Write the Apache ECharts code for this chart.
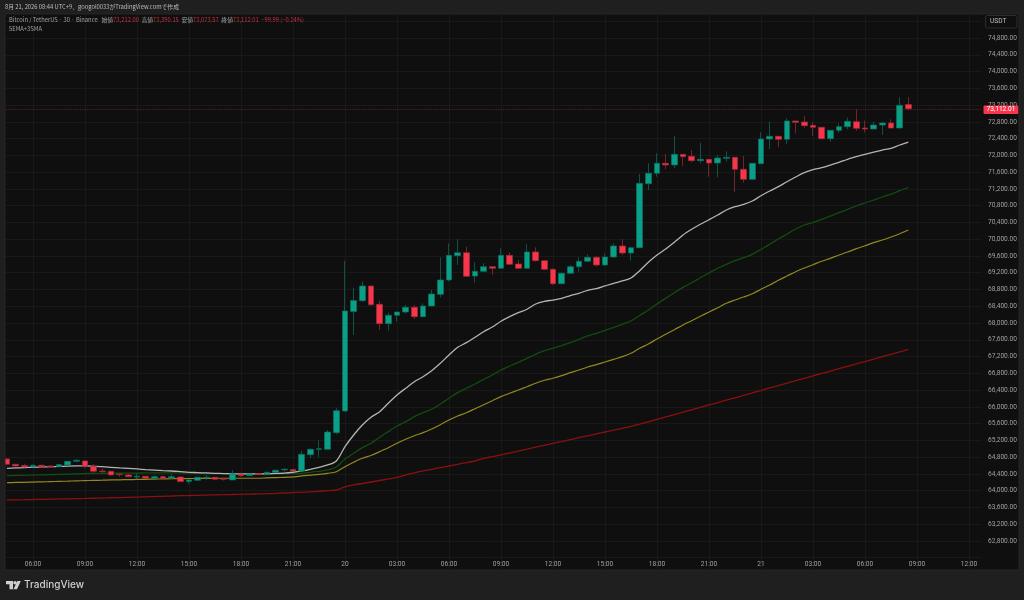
<!DOCTYPE html>
<html><head><meta charset="utf-8">
<style>html,body{margin:0;padding:0;background:#1f1f1f}#c{width:1024px;height:600px}</style>
<script src="https://cdn.jsdelivr.net/npm/echarts@6/dist/echarts.min.js"></script></head>
<body><div id="c"></div>
<script>
const headerText='8月 21, 2026 08:44 UTC+9、googol0033がTradingView.comで作成';
const symbolText='Bitcoin / TetherUS · 30 · Binance';
const ohlcLabels=['始値','高値','安値','終値'];
const ohlcValues=['73,212.00','73,390.15','73,073.57','73,112.01'];
const changeText='−99.99 (−0.14%)';
const indicatorText='5EMA+3SMA';
const lastPrice=73112.01;
const categories=['04:30','05:00','05:30','06:00','06:30','07:00','07:30','08:00','08:30','09:00','09:30','10:00','10:30','11:00','11:30','12:00','12:30','13:00','13:30','14:00','14:30','15:00','15:30','16:00','16:30','17:00','17:30','18:00','18:30','19:00','19:30','20:00','20:30','21:00','21:30','22:00','22:30','23:00','23:30','20','00:30','01:00','01:30','02:00','02:30','03:00','03:30','04:00','04:30','05:00','05:30','06:00','06:30','07:00','07:30','08:00','08:30','09:00','09:30','10:00','10:30','11:00','11:30','12:00','12:30','13:00','13:30','14:00','14:30','15:00','15:30','16:00','16:30','17:00','17:30','18:00','18:30','19:00','19:30','20:00','20:30','21:00','21:30','22:00','22:30','23:00','23:30','21','00:30','01:00','01:30','02:00','02:30','03:00','03:30','04:00','04:30','05:00','05:30','06:00','06:30','07:00','07:30','08:00','08:30','09:00','09:30','10:00','10:30','11:00','11:30','12:00','12:30'];
const opens=[64757,64630,64598,64566,64606,64590,64574,64614,64701,64709,64582,64471,64463,64399,64375,64327,64343,64295,64335,64303,64327,64216,64248,64303,64319,64288,64256,64399,64359,64407,64383,64439,64495,64503,64470,64859,64988,64988,65384,65901,68275,68533,68883,68446,67985,68184,68263,68375,68152,68407,68685,69027,69607,69679,69122,69233,69345,69305,69615,69408,69305,69695,69488,69281,68939,69186,69345,69472,69567,69385,69575,69838,69671,69798,71325,71572,71811,71771,72025,71978,71874,71906,71818,71930,71954,71667,71429,71803,72391,72455,72383,72820,72797,72717,72669,72399,72598,72685,72804,72653,72630,72725,72773,72653,73212];
const closes=[64630,64590,64566,64606,64566,64566,64622,64701,64725,64582,64463,64455,64375,64383,64335,64343,64295,64335,64295,64335,64216,64256,64319,64319,64272,64272,64399,64359,64399,64383,64439,64487,64511,64471,64868,64988,65002,65400,65908,68287,68537,68883,68437,67985,68184,68263,68375,68152,68407,68693,69027,69615,69679,69114,69233,69345,69305,69615,69400,69305,69695,69488,69281,68939,69186,69345,69472,69567,69385,69575,69838,69671,69798,71333,71572,71811,71771,72025,71970,71874,71906,71818,71938,71954,71667,71429,71811,72391,72455,72383,72820,72789,72709,72669,72399,72598,72685,72812,72645,72630,72725,72773,72653,73194,73112.01];
const lows=[64606,64580,64550,64550,64558,64558,64566,64606,64677,64534,64431,64415,64367,64335,64319,64272,64287,64272,64272,64272,64208,64152,64240,64256,64264,64240,64256,64335,64351,64375,64375,64431,64455,64463,64462,64780,64797,64980,65346,65890,67715,68509,68406,67834,67818,68033,68224,68096,68136,68391,68613,68995,69385,69106,68963,69210,69146,69297,69385,69289,69289,69464,69265,68907,68923,69170,69226,69456,69345,69361,69567,69623,69488,69790,71174,71492,71667,71691,71747,71834,71811,71492,71477,71850,71127,71349,71413,71787,72152,72192,72272,72526,72661,72463,72383,72327,72542,72622,72590,72550,72622,72487,72645,72645,73073.57];
const highs=[64773,64640,64645,64622,64622,64598,64630,64710,64757,64717,64638,64534,64471,64415,64399,64415,64351,64367,64367,64399,64335,64272,64327,64375,64327,64296,64495,64431,64407,64415,64447,64503,64534,64511,64954,65000,65202,65448,65966,69487,68843,68986,68890,68526,68247,68270,68430,68430,68470,68788,69567,69901,70000,69822,69448,69424,69361,69782,69687,69504,69878,69806,69504,69305,69202,69385,69567,69639,69607,69663,69901,70000,69822,71556,71811,72049,72033,72463,72033,72129,72304,71914,72009,72097,71962,71985,71819,72550,72805,72463,72884,72828,72948,72789,72677,72606,72765,72900,73099,72828,72804,72789,72860,73385,73390.15];
const whiteLine=[64534,64542,64550,64558,64566,64574,64578,64586,64590,64590,64582,64574,64558,64542,64530,64518,64502,64490,64478,64470,64455,64439,64431,64423,64415,64407,64403,64399,64399,64399,64403,64411,64419,64440,64470,64510,64558,64613,64709,65050,65329,65568,65751,65885,66085,66283,66443,66600,66720,66863,67039,67238,67421,67531,67660,67793,67905,68041,68151,68246,68328,68454,68518,68549,68590,68652,68709,68781,68819,68884,68948,69003,69074,69249,69449,69623,69766,69926,70100,70236,70356,70465,70577,70697,70775,70832,70911,71038,71150,71253,71372,71484,71587,71658,71706,71770,71835,71906,71968,72026,72080,72128,72169,72248,72319];
const greenLine=[64359,64363,64367,64373,64377,64383,64389,64395,64400,64407,64412,64415,64417,64419,64420,64421,64423,64423,64423,64423,64423,64419,64415,64411,64407,64405,64403,64401,64399,64399,64399,64401,64405,64407,64415,64439,64463,64494,64565,64756,64892,65026,65131,65274,65408,65544,65646,65766,65861,65942,66069,66205,66338,66443,66545,66658,66760,66879,66975,67063,67158,67254,67340,67397,67459,67531,67612,67691,67755,67827,67898,67970,68048,68180,68311,68454,68590,68724,68852,68962,69081,69193,69306,69401,69487,69559,69640,69759,69878,70005,70124,70243,70339,70403,70475,70553,70632,70713,70792,70864,70935,71007,71078,71157,71238];
const yellowLine=[64192,64196,64200,64206,64210,64216,64222,64227,64234,64240,64245,64250,64256,64260,64264,64268,64272,64276,64280,64284,64288,64290,64292,64293,64296,64296,64296,64296,64296,64297,64307,64311,64319,64327,64351,64370,64389,64415,64453,64573,64678,64773,64840,64931,65026,65131,65226,65312,65384,65472,65575,65687,65782,65861,65956,66052,66147,66243,66324,66402,66481,66562,66634,66682,66744,66815,66879,66951,67006,67070,67134,67197,67278,67397,67500,67619,67731,67841,67953,68056,68161,68263,68366,68471,68550,68621,68700,68805,68907,69019,69122,69225,69313,69392,69473,69544,69623,69695,69774,69845,69917,69981,70053,70131,70220];
const redLine=[63778,63781,63785,63790,63792,63797,63802,63804,63809,63814,63819,63823,63831,63835,63842,63847,63854,63859,63866,63873,63881,63885,63890,63895,63900,63904,63909,63914,63919,63923,63928,63935,63945,63954,63961,63971,63985,64000,64016,64088,64136,64171,64207,64243,64279,64315,64379,64427,64470,64510,64549,64589,64630,64668,64708,64771,64811,64854,64899,64945,64990,65038,65083,65128,65173,65219,65264,65310,65355,65400,65446,65489,65534,65587,65644,65699,65759,65816,65873,65930,65987,66045,66102,66159,66216,66273,66331,66390,66450,66507,66565,66624,66682,66739,66796,66853,66911,66968,67025,67082,67140,67197,67254,67311,67369];

const UP='#0aa087',DOWN='#f7364b',UPW='#0c7060',DOWNW='#a32a3a';
const LABEL='#a0a0a0';
const FONT='"Noto Sans CJK JP",sans-serif';
const candle=opens.map((o,i)=>[o,closes[i],lows[i],highs[i]]);
const lineSeries=(d,c,w)=>({type:'line',data:d,showSymbol:false,symbol:'none',smooth:0.3,z:3,lineStyle:{color:c,width:w},silent:true});
const showTick=i=>(i-3)%6===0;
const ohlcRich={a:{fill:'#a0a0a0',font:'5.8px '+FONT},v:{fill:'#c8303f',font:'5.8px '+FONT}};
const ohlcStr=ohlcLabels.map((l,i)=>`{a|${l}}{v|${ohlcValues[i]}}`).join('{a|  }');
const chart=echarts.init(document.getElementById('c'),null,{renderer:'canvas'});
chart.setOption({
 animation:false,backgroundColor:'#1f1f1f',
 grid:{left:2.667,right:42,top:4.5,bottom:25.5,containLabel:false},
 xAxis:{type:'category',data:categories,boundaryGap:true,
  axisLine:{show:false},axisTick:{show:false},
  axisLabel:{inside:true,margin:7,interval:(i)=>showTick(i),color:LABEL,fontSize:6.6,fontFamily:'Roboto',hideOverlap:false},
  splitLine:{show:true,alignWithLabel:true,interval:(i)=>showTick(i),lineStyle:{color:'#191919',width:1}}},
 yAxis:{type:'value',position:'right',min:62000,max:75600,interval:400,
  axisLine:{show:false},axisTick:{show:false},
  axisLabel:{margin:6,color:LABEL,fontSize:6.6,fontFamily:'Roboto',
   formatter:v=>(v<62800||v>74800)?'':v.toLocaleString('en-US',{minimumFractionDigits:2,maximumFractionDigits:2})},
  splitLine:{show:true,lineStyle:{color:'#191919',width:1}}},
 series:[
  lineSeries(redLine,'#8a1010',1.3),
  lineSeries(yellowLine,'#948820',1.2),
  lineSeries(greenLine,'#124c10',1.3),
  lineSeries(whiteLine,'#b4b4b4',1.3),
  {type:'candlestick',data:candle,barWidth:6.4,z:4,silent:true,
   itemStyle:{color:UP,color0:DOWN,borderColor:UPW,borderColor0:DOWNW,borderWidth:0.7},
   markLine:{silent:true,symbol:'none',animation:false,precision:2,z:6,
    lineStyle:{color:'rgba(200,45,60,0.5)',type:'dotted',width:0.9},
    label:{show:true,position:'end',distance:1.5,formatter:()=>'73,112.01',backgroundColor:'#f7364b',color:'#ffffff',fontSize:6.6,lineHeight:7,fontFamily:'Roboto',padding:[1,3,0.5,3],borderRadius:1,offset:[0,1]},
    data:[{yAxis:lastPrice}]}}
 ],
 graphic:[
  {type:'rect',z:-1,shape:{x:5,y:14,width:1014,height:556},style:{fill:'#0f0f0f'},silent:true},
  {type:'rect',z:50,shape:{x:0,y:0,width:1024,height:14},style:{fill:'#1f1f1f'},silent:true},
  {type:'rect',z:50,shape:{x:0,y:570,width:1024,height:30},style:{fill:'#1f1f1f'},silent:true},
  {type:'rect',z:50,shape:{x:0,y:0,width:5,height:600},style:{fill:'#1f1f1f'},silent:true},
  {type:'rect',z:50,shape:{x:1019,y:0,width:5,height:600},style:{fill:'#1f1f1f'},silent:true},
  {type:'rect',z:51,shape:{x:5,y:14,width:1014,height:556},style:{fill:null,stroke:'#262626',lineWidth:1},silent:true},
  {type:'text',z:52,x:5,y:7,style:{text:headerText,fill:'#bcbcbc',font:'5.8px '+FONT,verticalAlign:'middle'},silent:true},
  {type:'text',z:52,x:9,y:20,style:{text:`{a|${symbolText}   }${ohlcStr}{v|  ${changeText}}`,rich:ohlcRich,verticalAlign:'middle'},silent:true},
  {type:'text',z:52,x:9,y:29,style:{text:indicatorText,fill:'#a0a0a0',font:'5.8px '+FONT,verticalAlign:'middle'},silent:true},
  {type:'rect',z:52,shape:{x:985.5,y:15.5,width:31.5,height:12.5,r:2},style:{fill:'#0f0f0f',stroke:'#2d2d2d',lineWidth:1},silent:true},
  {type:'text',z:53,x:990,y:21.7,style:{text:'USDT',fill:'#c0c0c0',font:'6.6px Roboto',verticalAlign:'middle'},silent:true},
  {type:'polygon',z:52,shape:{points:[[6,581],[13,581],[13,589.3],[9.5,589.3],[9.5,584.3],[6,584.3]]},style:{fill:'#d0d0d0'},silent:true},
  {type:'circle',z:52,shape:{cx:15,cy:582.7,r:1.7},style:{fill:'#d0d0d0'},silent:true},
  {type:'polygon',z:52,shape:{points:[[17.3,581],[20.8,581],[17,589.3],[13.5,589.3]]},style:{fill:'#d0d0d0'},silent:true},
  {type:'text',z:52,x:24,y:585,style:{text:'TradingView',fill:'#d0d0d0',font:'500 10px Inter,Roboto,sans-serif',verticalAlign:'middle'},silent:true}
 ]
});
</script></body></html>
